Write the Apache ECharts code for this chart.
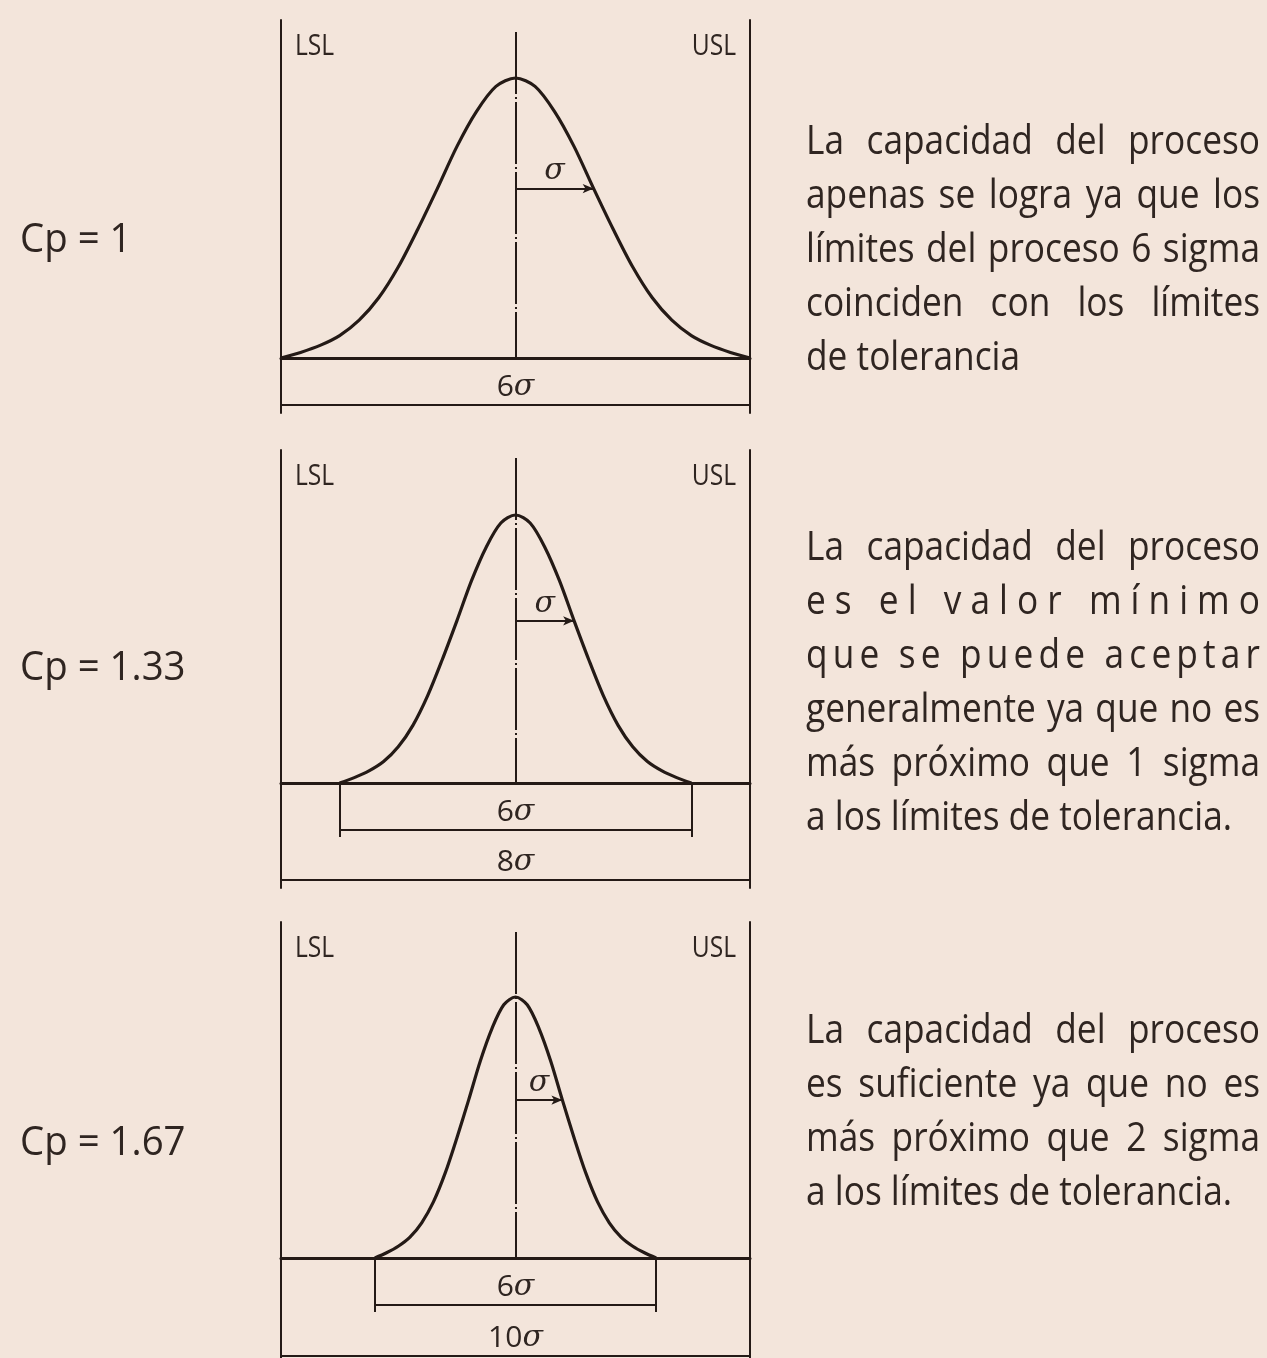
<!DOCTYPE html>
<html>
<head>
<meta charset="utf-8">
<script src="https://cdn.jsdelivr.net/npm/echarts@6/dist/echarts.min.js"></script>
<style>
  html, body { margin: 0; padding: 0; background: #f3e5db; }
  #chart { width: 1267px; height: 1358px; }
</style>
</head>
<body>
<div id="chart"></div>
<script>
// positions along the axis, in sigma units
var sigmaSteps = [-3, -2.75, -2.5, -2.25, -2, -1.75, -1.5, -1.25, -1, -0.75, -0.5, -0.25, 0,
                  0.25, 0.5, 0.75, 1, 1.25, 1.5, 1.75, 2, 2.25, 2.5, 2.75, 3];
// curve height relative to its peak (same bell in all three panels)
var curveHeight = [0, 0.02, 0.045, 0.08, 0.135, 0.215, 0.325, 0.46, 0.605, 0.755, 0.88, 0.97, 1,
                   0.97, 0.88, 0.755, 0.605, 0.46, 0.325, 0.215, 0.135, 0.08, 0.045, 0.02, 0];
// distance LSL/USL from the mean, in sigma
var specHalfWidth = [3, 4, 5];
var cpLabels = ['Cp = 1', 'Cp = 1.33', 'Cp = 1.67'];
var processWidth = 6;
var specWidthLabels = ['6', '8', '10'];
var notes = [
  ['La capacidad del proceso', 'apenas se logra ya que los', 'límites del proceso 6 sigma',
   'coinciden con los límites', 'de tolerancia'],
  ['La capacidad del proceso', 'es el valor mínimo', 'que se puede aceptar',
   'generalmente ya que no es', 'más próximo que 1 sigma', 'a los límites de tolerancia.'],
  ['La capacidad del proceso', 'es suficiente ya que no es', 'más próximo que 2 sigma',
   'a los límites de tolerancia.']
];

// layout of each panel (pixels)
var W = 1267, H = 1358;
var panelLeft = 281, panelRight = 750;
var panels = [
  { lineTop: 20,  peak: 78,  base: 358,  lineBottom: 413,  centerTop: 32,  dims: [405],        cpY: 241,  noteY: 153 },
  { lineTop: 450, peak: 515, base: 783,  lineBottom: 888,  centerTop: 458, dims: [830, 880],  cpY: 669,  noteY: 559 },
  { lineTop: 922, peak: 997, base: 1258, lineBottom: 1358, centerTop: 932, dims: [1305, 1356], cpY: 1144, noteY: 1042 }
];

var INK = '#241a16';
var TEXT = '#2f2521';
var FONT = 'Open Sans';
var FS = 40;
var LINE_GAP = 54;
var X0 = 806, X1 = 1260;
var LAST_LINE_END = 1232;

var chart = echarts.init(document.getElementById('chart'));

var rich = {
  n: { fontSize: 30, fontFamily: FONT, color: TEXT },
  s: { fontSize: 30, fontFamily: 'DejaVu Serif', fontStyle: 'italic', color: TEXT }
};

var grids = [], xAxes = [], yAxes = [], series = [];

panels.forEach(function (p, i) {
  var N = specHalfWidth[i];
  var unit = p.base - p.peak;
  var toVal = function (px) { return (p.base - px) / unit; };

  grids.push({ left: panelLeft, right: W - panelRight, top: p.lineTop, bottom: H - p.lineBottom });
  xAxes.push({
    type: 'value', gridIndex: i, min: -N, max: N,
    axisLine: { show: true, onZero: true, lineStyle: { color: INK, width: 3 } },
    axisTick: { show: false }, axisLabel: { show: false }, splitLine: { show: false }
  });
  ['left', 'right'].forEach(function (pos) {
    yAxes.push({
      type: 'value', gridIndex: i, position: pos, min: toVal(p.lineBottom), max: toVal(p.lineTop),
      axisLine: { show: true, onZero: false, lineStyle: { color: INK, width: 2 } },
      axisTick: { show: false }, axisLabel: { show: false }, splitLine: { show: false }
    });
  });

  var h1 = curveHeight[sigmaSteps.indexOf(1)];
  var marks = [
    // centre line
    [{ coord: [0, toVal(p.centerTop)], lineStyle: { type: [62, 3, 2, 3], width: 2 } }, { coord: [0, 0] }],
    // sigma arrow
    [{ coord: [0, h1], label: { show: true, position: 'insideMiddleTop', distance: 2, formatter: '{s|σ}', rich: rich } },
     { coord: [1, h1], symbol: 'arrow', symbolSize: [7, 11] }]
  ];
  var procY = toVal(p.dims[0]);
  marks.push([
    { coord: [-processWidth / 2, procY],
      label: { show: true, position: 'insideMiddleTop', distance: 3, formatter: '{n|' + processWidth + '}{s|σ}', rich: rich } },
    { coord: [processWidth / 2, procY] }
  ]);
  if (N > processWidth / 2) {
    var tickEnd = toVal(p.dims[0] + 7);
    marks.push([{ coord: [-processWidth / 2, 0] }, { coord: [-processWidth / 2, tickEnd] }]);
    marks.push([{ coord: [processWidth / 2, 0] }, { coord: [processWidth / 2, tickEnd] }]);
    var specY = toVal(p.dims[1]);
    marks.push([
      { coord: [-N, specY],
        label: { show: true, position: 'insideMiddleTop', distance: 3, formatter: '{n|' + specWidthLabels[i] + '}{s|σ}', rich: rich } },
      { coord: [N, specY] }
    ]);
  }

  series.push({
    type: 'line', xAxisIndex: i, yAxisIndex: 2 * i,
    data: sigmaSteps.map(function (x, k) { return [x, curveHeight[k]]; }),
    smooth: 0.3, showSymbol: false, silent: true,
    lineStyle: { color: INK, width: 3.2 },
    markLine: {
      silent: true, animation: false, symbol: ['none', 'none'],
      label: { show: false },
      lineStyle: { color: INK, width: 2, type: 'solid' },
      data: marks
    }
  });
});

// text measurement for the justified notes
var ctx = document.createElement('canvas').getContext('2d');
ctx.font = 'normal ' + FS + 'px "' + FONT + '"';
var sx = (LAST_LINE_END - X0) / ctx.measureText(notes[1][notes[1].length - 1]).width;

function textEl(str, x, y, opt) {
  opt = opt || {};
  return {
    type: 'text', x: x, y: y, scaleX: opt.scaleX || sx, silent: true,
    style: {
      text: str, fontSize: opt.fontSize || FS, fontFamily: FONT,
      fill: TEXT, align: opt.align || 'left', verticalAlign: 'middle'
    }
  };
}

var graphics = [];
function addLine(text, y, justify) {
  if (!justify) { graphics.push(textEl(text, X0, y)); return; }
  var words = text.split(' ');
  var widths = words.map(function (w) { return ctx.measureText(w).width * sx; });
  var sum = widths.reduce(function (a, b) { return a + b; }, 0);
  var spaceW = ctx.measureText(' ').width * sx;
  var gap = (X1 - X0 - sum) / (words.length - 1);
  var x = X0;
  if (gap > spaceW * 3.5) {
    // very loose line: spread the letters as well
    var chars = text.split('');
    var cw = chars.map(function (c) { return ctx.measureText(c).width * sx; });
    var total = cw.reduce(function (a, b) { return a + b; }, 0);
    var extra = (X1 - X0 - total) / (chars.length - 1);
    chars.forEach(function (c, k) {
      if (c !== ' ') graphics.push(textEl(c, x, y));
      x += cw[k] + extra;
    });
    return;
  }
  var f = 1;
  if (gap < spaceW * 0.45) {
    gap = spaceW * 0.45;
    f = (X1 - X0 - gap * (words.length - 1)) / sum;
  }
  words.forEach(function (w, k) {
    graphics.push(textEl(w, x, y, { scaleX: sx * f }));
    x += widths[k] * f + gap;
  });
}

panels.forEach(function (p, i) {
  graphics.push(textEl(cpLabels[i], 20, p.cpY, { scaleX: 0.96 }));
  graphics.push(textEl('LSL', 295, p.lineTop + 26, { fontSize: 30, scaleX: 0.82 }));
  graphics.push(textEl('USL', 736, p.lineTop + 26, { fontSize: 30, scaleX: 0.82, align: 'right' }));
  notes[i].forEach(function (line, k) {
    addLine(line, p.noteY - 10 + k * LINE_GAP, k < notes[i].length - 1);
  });
});

chart.setOption({
  backgroundColor: '#f3e5db',
  animation: false,
  grid: grids,
  xAxis: xAxes,
  yAxis: yAxes,
  series: series,
  graphic: { elements: graphics }
});
</script>
</body>
</html>
